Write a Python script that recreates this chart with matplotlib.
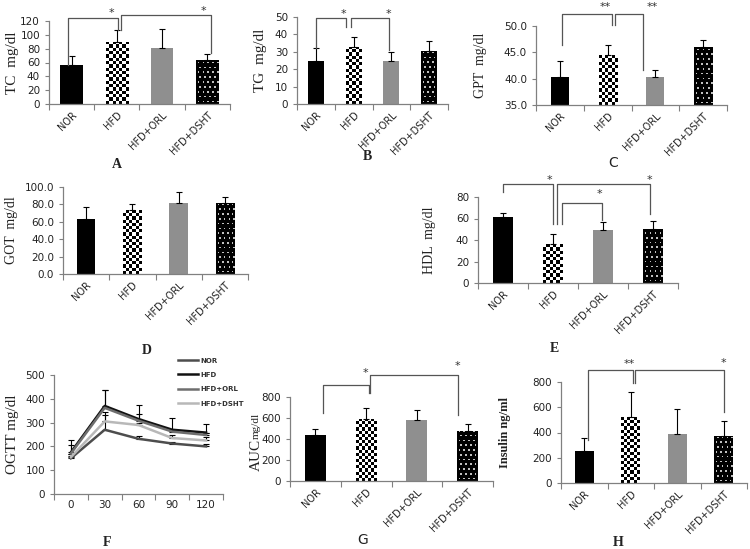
import numpy as np
import matplotlib
matplotlib.use("Agg")
import matplotlib.pyplot as plt

groups = ['NOR', 'HFD', 'HFD+ORL', 'HFD+DSHT']

tc_mean = [56, 90, 81, 63]
tc_err = [14, 17, 28, 10]
tg_mean = [25, 33, 25, 30.5]
tg_err = [7, 5.5, 5, 5.5]
gpt_mean = [40.3, 44.4, 40.3, 46.0]
gpt_err = [3.0, 2.0, 1.3, 1.3]
got_mean = [63, 73, 82, 82]
got_err = [14, 8, 12, 7]
hdl_mean = [61.5, 36, 49, 50]
hdl_err = [4, 10, 8, 8]
auc_mean = [440, 595, 580, 480]
auc_err = [60, 105, 95, 65]
ins_mean = [250, 520, 390, 375]
ins_err = [110, 200, 200, 118]

times = ['0', '30', '60', '90', '120']
ogtt_nor = [150, 270, 232, 212, 200]
ogtt_nor_err = [10, 60, 10, 8, 8]
ogtt_hfd = [175, 370, 315, 270, 258]
ogtt_hfd_err = [50, 65, 60, 48, 35]
ogtt_orl = [170, 362, 308, 262, 248]
ogtt_orl_err = [35, 73, 27, 8, 8]
ogtt_dsht = [155, 305, 290, 235, 225]
ogtt_dsht_err = [12, 40, 10, 15, 15]

W, H = 750, 549
fig = plt.figure(figsize=(7.5, 5.49), dpi=100)
fig.patch.set_facecolor('white')

GRAY = '#808080'
SERIF = 'Liberation Serif'


def make_ax(left, right, top, bottom):
    ax = fig.add_axes([left / W, 1 - bottom / H, (right - left) / W, (bottom - top) / H])
    for s in ['top', 'right']:
        ax.spines[s].set_visible(False)
    for s in ['left', 'bottom']:
        ax.spines[s].set_color(GRAY)
        ax.spines[s].set_linewidth(0.9)
    ax.tick_params(axis='y', colors=GRAY, labelcolor='#222222', labelsize=7.5, length=3, width=0.8)
    return ax


def cat_axis(ax, labels, rot=True):
    n = len(labels)
    ax.set_xlim(-0.5, n - 0.5)
    ax.set_xticks(range(n))
    if rot:
        ax.set_xticklabels(labels, rotation=45, ha='right', rotation_mode='anchor', fontsize=7, color='#222222')
    else:
        ax.set_xticklabels(labels, fontsize=7.5, color='#222222')
    ax.set_xticks(np.arange(-0.5, n, 1.0), minor=True)
    ax.tick_params(axis='x', which='major', length=0, pad=4)
    ax.tick_params(axis='x', which='minor', length=4, width=0.8, color=GRAY)


def pattern(ax, rect, kind, cell=3.0):
    # fill a bar with a pixel pattern, clipped to the bar
    bx0, by0 = rect.get_x(), rect.get_y()
    bx1, by1 = bx0 + rect.get_width(), by0 + rect.get_height()
    p0 = ax.transData.transform((bx0, by0))
    p1 = ax.transData.transform((bx1, by1))
    ncol = max(1, int(round((p1[0] - p0[0]) / cell)))
    nrow = max(1, int(round((p1[1] - p0[1]) / cell)))
    i, j = np.meshgrid(np.arange(nrow), np.arange(ncol), indexing='ij')
    if kind == 'checker':
        arr = (i + j) % 2
    else:
        arr = ((i % 3 == 1) & (j % 3 == (1 + (i // 3) % 2) % 3)).astype(float) * 0.75
    im = ax.imshow(arr, cmap='gray', vmin=0, vmax=1, extent=(bx0, bx1, by0, by1), aspect='auto',
                   interpolation='nearest', origin='lower', zorder=2.1)
    im.set_clip_path(rect)


def bar_panel(ax, mean, err, ylim, yticks, fmt, width=0.42):
    x = np.arange(len(mean))
    ax.set_ylim(*ylim)
    cat_axis(ax, groups)
    base = ylim[0]
    h = [m - base for m in mean]
    bars = ax.bar(x, h, bottom=base, width=width, zorder=2, linewidth=0)
    bars[0].set_facecolor('black')
    bars[1].set_facecolor('white')
    bars[2].set_facecolor('#8f8f8f')
    bars[3].set_facecolor('black')
    pattern(ax, bars[1], 'checker', 3.2)
    pattern(ax, bars[3], 'dots', 1.6)
    ax.errorbar(x, mean, yerr=[np.zeros(len(err)), err], fmt='none', ecolor='black',
                elinewidth=0.8, capsize=2.5, capthick=0.8, zorder=3)
    ax.set_xlim(-0.5, len(mean) - 0.5)
    ax.set_ylim(*ylim)
    ax.set_yticks(yticks)
    ax.set_yticklabels([fmt % v for v in yticks])
    return bars


def bracket(ax, x1, x2, y, y1, y2):
    ax.plot([x1, x1, x2, x2], [y1, y, y, y2], color='#555555', lw=0.9, clip_on=False, zorder=4)


def star(ax, x, y, s='*'):
    ax.text(x, y, s, ha='center', va='center', fontsize=8, color='#333333', clip_on=False)


def ylab(ax, text, xpos, size=10, weight='normal'):
    ax.set_ylabel(text, family=SERIF, fontsize=size, weight=weight, color='#222222', va='center')
    ax.yaxis.set_label_coords(xpos, 0.5)


def letter(px, py, s, serif=True):
    fig.text(px / W, 1 - py / H, s, ha='center', va='center',
             family=SERIF if serif else 'DejaVu Sans', fontsize=10,
             weight='bold' if serif else 'normal', color='#222222')


# A: TC
ax = make_ax(49, 230, 21, 104)
bar_panel(ax, tc_mean, tc_err, (0, 120), range(0, 121, 20), '%d', width=0.5)
bracket(ax, -0.08, 1.03, 125, 57, 107)
bracket(ax, 1.1, 3.09, 128, 107, 74)
star(ax, 0.88, 131)
star(ax, 2.92, 134)
ylab(ax, 'TC  mg/dl', -0.2, 11)
letter(117, 164, 'A')

# B: TG
ax = make_ax(297, 448, 17, 104)
bar_panel(ax, tg_mean, tg_err, (0, 50), range(0, 51, 10), '%d')
bracket(ax, 0.0, 0.8, 49.5, 32, 44)
bracket(ax, 0.92, 1.95, 49.5, 44, 31)
star(ax, 0.72, 51.5)
star(ax, 1.92, 51.5)
ylab(ax, 'TG  mg/dl', -0.245, 11)
letter(367, 156, 'B')

# C: GPT
ax = make_ax(536, 727, 26, 105)
bar_panel(ax, gpt_mean, gpt_err, (35, 50), [35, 40, 45, 50], '%.1f', width=0.38)
bracket(ax, 0.04, 1.09, 52.3, 46.4, 50.2)
bracket(ax, 1.16, 1.75, 52.3, 50.2, 41.6)
star(ax, 0.95, 53.7, '**')
star(ax, 1.93, 53.7, '**')
ylab(ax, 'GPT  mg/dl', -0.293, 10)
letter(613, 163, 'C', serif=False)

# D: GOT
ax = make_ax(63, 248, 187, 274)
bar_panel(ax, got_mean, got_err, (0, 100), range(0, 101, 20), '%.1f', width=0.4)
ylab(ax, 'GOT  mg/dl', -0.276, 10)
letter(147, 350, 'D')

# E: HDL
ax = make_ax(478, 678, 197, 283)
bar_panel(ax, hdl_mean, hdl_err, (0, 80), range(0, 81, 20), '%d', width=0.4)
bracket(ax, 0.0, 1.0, 91.7, 84.6, 55)
bracket(ax, 1.07, 2.94, 91.7, 55, 64.6)
bracket(ax, 1.17, 1.97, 74.8, 55, 58.5)
star(ax, 0.93, 95.4)
star(ax, 1.93, 82.5)
star(ax, 2.93, 95.4)
ylab(ax, 'HDL  mg/dl', -0.24, 10)
letter(554, 348, 'E')

# F: OGTT
ax = make_ax(54, 223, 375, 494)
x = np.arange(len(times))
series = [(ogtt_nor, ogtt_nor_err, '#4d4d4d', 'NOR'),
          (ogtt_hfd, ogtt_hfd_err, '#111111', 'HFD'),
          (ogtt_orl, ogtt_orl_err, '#6e6e6e', 'HFD+ORL'),
          (ogtt_dsht, ogtt_dsht_err, '#b8b8b8', 'HFD+DSHT')]
handles = []
for vals, err, col, lab in series:
    ax.errorbar(x, vals, yerr=[np.zeros(len(err)), err], fmt='none', ecolor='black',
                elinewidth=0.8, capsize=2.5, capthick=0.8, zorder=2)
for vals, err, col, lab in series:
    ln, = ax.plot(x, vals, color=col, lw=1.8, label=lab, zorder=3)
    handles.append(ln)
cat_axis(ax, times, rot=False)
ax.set_ylim(0, 500)
ax.set_yticks(range(0, 501, 100))
ax.tick_params(axis='y', labelsize=7.5)
leg = ax.legend(handles=handles, loc='upper left', bbox_to_anchor=(0.72, 1.17), frameon=False,
                prop={'size': 5, 'weight': 'bold'}, handlelength=2.8, labelspacing=1.2,
                handletextpad=0.3, borderaxespad=0)
for t in leg.get_texts():
    t.set_color('#333333')
ylab(ax, 'OGTT mg/dl', -0.243, 11)
letter(107, 542, 'F')

# G: AUC
ax = make_ax(290, 493, 397, 481)
bar_panel(ax, auc_mean, auc_err, (0, 800), range(0, 801, 200), '%d', width=0.41)
bracket(ax, 0.16, 1.05, 918, 646, 838)
bracket(ax, 1.08, 2.82, 1014, 838, 630)
star(ax, 0.98, 1030)
star(ax, 2.79, 1100)
ax.text(-0.165, 0.5, 'AUC', rotation=90, transform=ax.transAxes, family=SERIF,
        fontsize=11, ha='center', va='top', color='#222222')
ax.text(-0.165, 0.5, 'mg/dl', rotation=90, transform=ax.transAxes, family=SERIF,
        fontsize=8, ha='center', va='bottom', color='#222222')
letter(363, 540, 'G', serif=False)

# H: Insulin
ax = make_ax(561, 747, 382, 483)
bar_panel(ax, ins_mean, ins_err, (0, 800), range(0, 801, 200), '%d', width=0.4)
bracket(ax, 0.08, 1.05, 895, 339, 789)
bracket(ax, 1.1, 3.0, 895, 789, 564)
star(ax, 0.96, 943, '**')
star(ax, 3.0, 948)
ylab(ax, 'Insulin ng/ml', -0.30, 9, 'bold')
letter(618, 542, 'H')

fig.savefig('out.png', dpi=100, facecolor='white')
